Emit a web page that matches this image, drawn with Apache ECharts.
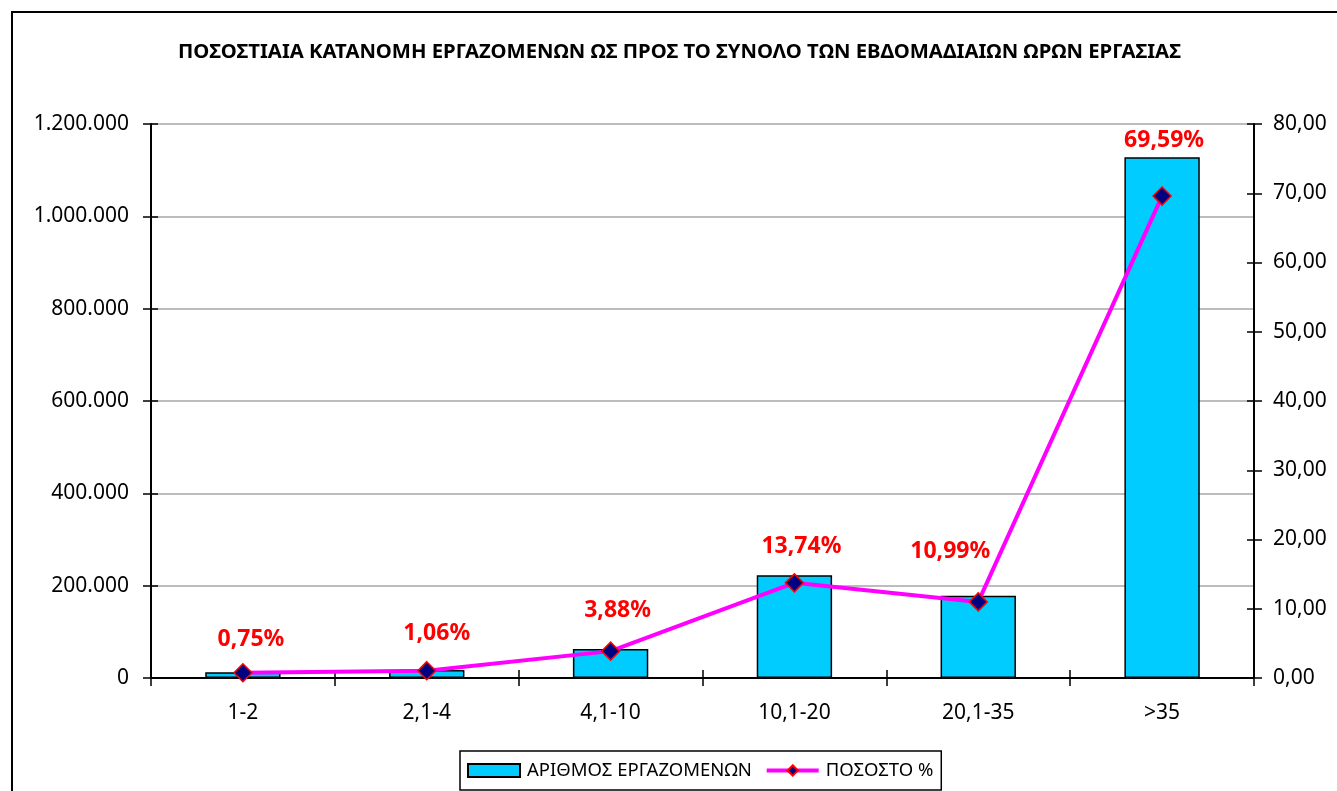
<!DOCTYPE html>
<html>
<head>
<meta charset="utf-8">
<title>ΠΟΣΟΣΤΙΑΙΑ ΚΑΤΑΝΟΜΗ ΕΡΓΑΖΟΜΕΝΩΝ</title>
<script src="https://cdn.jsdelivr.net/npm/echarts@6/dist/echarts.min.js"></script>
<style>
  html, body { margin: 0; padding: 0; background: #fff; }
  #echart_combo { width: 1337px; height: 791px; }
</style>
</head>
<body>
<div id="echart_combo"></div>
<script>
  // ώρες εργασίας ανά εβδομάδα
  var categories = ['1-2', '2,1-4', '4,1-10', '10,1-20', '20,1-35', '>35'];
  // αριθμός εργαζομένων (αριστερός άξονας)
  var workers = [12200, 17200, 62900, 222700, 178200, 1128000];
  // ποσοστό % (δεξιός άξονας)
  var percent = [0.75, 1.06, 3.88, 13.74, 10.99, 69.59];
  var leftTicks = [0, 200000, 400000, 600000, 800000, 1000000, 1200000];
  var rightTicks = [0, 10, 20, 30, 40, 50, 60, 70, 80];

  // μετατόπιση ετικετών (όπως τοποθετήθηκαν στο excel)
  var labelShift = [[8, -33], [10, -37], [7, -41], [7, -36], [-28, -50], [2, -56]];

  var FONT = 'Noto Sans';

  function dots(v) {
    return String(v).replace(/\B(?=(\d{3})+(?!\d))/g, '.');
  }
  function comma2(v) {
    return v.toFixed(2).replace('.', ',');
  }

  var myChart = echarts.init(document.getElementById('echart_combo'));

  var lineData = percent.map(function (p, i) {
    return {
      value: p,
      label: { offset: labelShift[i] }
    };
  });

  var option = {
    backgroundColor: '#fff',
    animation: false,
    textStyle: { fontFamily: FONT },
    title: {
      text: 'ΠΟΣΟΣΤΙΑΙΑ ΚΑΤΑΝΟΜΗ ΕΡΓΑΖΟΜΕΝΩΝ ΩΣ ΠΡΟΣ ΤΟ ΣΥΝΟΛΟ ΤΩΝ ΕΒΔΟΜΑΔΙΑΙΩΝ ΩΡΩΝ ΕΡΓΑΣΙΑΣ',
      left: 178,
      top: 42,
      padding: 0,
      textStyle: { fontFamily: FONT, fontSize: 20.3, fontWeight: 'bold', color: '#000' }
    },
    graphic: [{
      type: 'rect',
      shape: { x: 12, y: 12, width: 1400, height: 900 },
      style: { fill: 'transparent', stroke: '#000', lineWidth: 2 },
      silent: true,
      z: -10
    }],
    legend: {
      data: [
        { name: 'ΑΡΙΘΜΟΣ ΕΡΓΑΖΟΜΕΝΩΝ', icon: 'rect' },
        { name: 'ΠΟΣΟΣΤΟ %', lineStyle: { width: 4, color: '#ff00ff' } }
      ],
      left: 460,
      top: 751,
      padding: [10, 8, 10, 7],
      itemWidth: 52,
      itemHeight: 13,
      itemGap: 13,
      borderColor: '#000',
      borderWidth: 1.5,
      borderRadius: 0,
      textStyle: { fontFamily: FONT, fontSize: 18.5, color: '#000', padding: [0, 0, 0, 2] }
    },
    grid: { left: 151, right: 83, top: 124, bottom: 113, containLabel: false },
    xAxis: [
      {
        type: 'category',
        data: categories,
        position: 'bottom',
        axisLine: { lineStyle: { color: '#000', width: 2 } },
        axisTick: { show: true, inside: false, length: 8, alignWithLabel: false, lineStyle: { color: '#000', width: 1.5 } },
        axisLabel: { color: '#000', fontSize: 21, margin: 25, fontFamily: FONT },
        splitLine: { show: false }
      },
      {
        // μόνο για τις εσωτερικές γραμμές υποδιαίρεσης (σταυρωτές)
        type: 'category',
        data: categories,
        position: 'bottom',
        axisLine: { show: false },
        axisTick: { show: true, inside: true, length: 8, alignWithLabel: false, lineStyle: { color: '#000', width: 1.5 } },
        axisLabel: { show: false },
        splitLine: { show: false }
      }
    ],
    yAxis: [
      {
        type: 'value',
        position: 'left',
        min: leftTicks[0],
        max: leftTicks[leftTicks.length - 1],
        interval: leftTicks[1] - leftTicks[0],
        axisLine: { show: true, lineStyle: { color: '#000', width: 2 } },
        axisTick: { show: true, length: 8, lineStyle: { color: '#000', width: 1.5 } },
        axisLabel: { color: '#000', fontSize: 21, margin: 22, fontFamily: FONT, formatter: dots },
        splitLine: { show: true, lineStyle: { color: '#a6a6a6', width: 1.5 } }
      },
      {
        type: 'value',
        position: 'right',
        min: rightTicks[0],
        max: rightTicks[rightTicks.length - 1],
        interval: rightTicks[1] - rightTicks[0],
        axisLine: { show: true, lineStyle: { color: '#000', width: 2 } },
        axisTick: { show: true, length: 8, lineStyle: { color: '#000', width: 1.5 } },
        axisLabel: { color: '#000', fontSize: 21, margin: 19, fontFamily: FONT, formatter: comma2 },
        splitLine: { show: false }
      },
      {
        type: 'value',
        position: 'left',
        min: leftTicks[0],
        max: leftTicks[leftTicks.length - 1],
        interval: leftTicks[1] - leftTicks[0],
        axisLine: { show: false },
        axisTick: { show: true, inside: true, length: 7, lineStyle: { color: '#000', width: 1.5 } },
        axisLabel: { show: false },
        splitLine: { show: false }
      },
      {
        type: 'value',
        position: 'right',
        min: rightTicks[0],
        max: rightTicks[rightTicks.length - 1],
        interval: rightTicks[1] - rightTicks[0],
        axisLine: { show: false },
        axisTick: { show: true, inside: true, length: 7, lineStyle: { color: '#000', width: 1.5 } },
        axisLabel: { show: false },
        splitLine: { show: false }
      }
    ],
    series: [
      {
        name: 'ΑΡΙΘΜΟΣ ΕΡΓΑΖΟΜΕΝΩΝ',
        type: 'bar',
        xAxisIndex: 0,
        yAxisIndex: 0,
        barWidth: '41%',
        itemStyle: { color: '#00ccff', borderColor: '#000', borderWidth: 1.5 },
        data: workers,
        z: 2
      },
      {
        name: 'ΠΟΣΟΣΤΟ %',
        type: 'line',
        xAxisIndex: 0,
        yAxisIndex: 1,
        symbol: 'diamond',
        symbolSize: 18,
        lineStyle: { color: '#ff00ff', width: 4 },
        itemStyle: { color: '#000080', borderColor: '#ff0000', borderWidth: 1.5 },
        label: {
          show: true,
          position: 'inside',
          color: '#ff0000',
          fontWeight: 'bold',
          fontSize: 23,
          fontFamily: FONT,
          formatter: function (p) { return comma2(p.value) + '%'; }
        },
        data: lineData,
        z: 5
      },
      // κενές σειρές για να εμφανιστούν οι βοηθητικοί άξονες
      { type: 'line', xAxisIndex: 1, yAxisIndex: 2, data: [], silent: true },
      { type: 'line', xAxisIndex: 1, yAxisIndex: 3, data: [], silent: true }
    ]
  };
  myChart.setOption(option);
</script>
</body>
</html>
